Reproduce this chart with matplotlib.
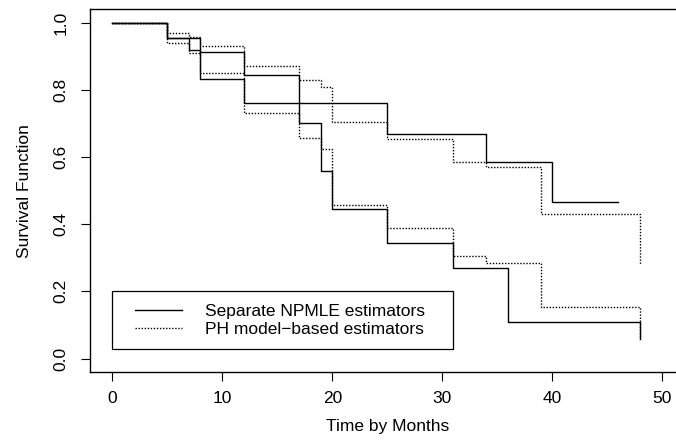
import numpy as np
import matplotlib.pyplot as plt
from matplotlib.legend_handler import HandlerLine2D

plt.rcParams['font.family'] = ['Liberation Sans', 'DejaVu Sans']

# NPMLE (solid) step curves, two groups
npmle_t1 = [0, 5, 7, 8, 12, 25, 34, 40, 46]
npmle_s1 = [1.0, 0.955, 0.920, 0.833, 0.762, 0.669, 0.586, 0.467, 0.467]
npmle_t2 = [0, 5, 8, 12, 17, 19, 20, 25, 31, 36, 48, 48]
npmle_s2 = [1.0, 0.955, 0.914, 0.845, 0.700, 0.560, 0.444, 0.343, 0.270, 0.109, 0.109, 0.057]

# PH model-based (dotted) step curves
ph_t = [0, 5, 7, 8, 12, 17, 19, 20, 25, 31, 34, 39, 48, 48]
ph_s1 = [1.0, 0.970, 0.957, 0.930, 0.871, 0.829, 0.809, 0.705, 0.655, 0.586, 0.570, 0.431, 0.431, 0.280]
ph_s2 = [1.0, 0.940, 0.909, 0.851, 0.732, 0.657, 0.625, 0.457, 0.389, 0.305, 0.285, 0.153, 0.153, 0.057]

labels = ["Separate NPMLE estimators", "PH model\u2212based estimators"]
xticks = [0, 10, 20, 30, 40, 50]
yticks = [0.0, 0.2, 0.4, 0.6, 0.8, 1.0]

fs = 12.5
dot = (0, (1, 1.2))

fig = plt.figure(figsize=(6.76, 4.43), dpi=100)
ax = fig.add_axes([90.3 / 676, 71 / 443, 594 / 676, 362.7 / 443])

l1, = ax.plot(npmle_t1, npmle_s1, drawstyle='steps-post', color='black', lw=1.0)
ax.plot(npmle_t2, npmle_s2, drawstyle='steps-post', color='black', lw=1.0)
l2, = ax.plot(ph_t, ph_s1, drawstyle='steps-post', color='black', lw=1.0, ls=dot)
ax.plot(ph_t, ph_s2, drawstyle='steps-post', color='black', lw=1.0, ls=dot)

ax.set_xlim(-2, 52)
ax.set_ylim(-0.04, 1.04)
ax.set_xticks(xticks)
ax.set_xticklabels([str(v) for v in xticks])
ax.set_yticks(yticks)
ax.set_yticklabels([f"{v:.1f}" for v in yticks], rotation=90, va='center')
ax.tick_params(axis='both', direction='out', length=6.5, width=0.8, labelsize=fs)
ax.tick_params(axis='x', pad=7.5)
ax.tick_params(axis='y', pad=9)
for sp in ax.spines.values():
    sp.set_linewidth(1.0)

ax.set_xlabel("Time by Months", fontsize=fs, labelpad=9)
ax.set_ylabel("Survival Function", fontsize=fs, labelpad=16)

hmap = {l1: HandlerLine2D(xpad=0.61), l2: HandlerLine2D(xpad=0.61)}
leg = ax.legend([l1, l2], labels, loc='upper left', bbox_to_anchor=(0, 0.02, 30.94, 0.18),
                bbox_transform=ax.transData, mode='expand', borderaxespad=0,
                fontsize=fs, handlelength=3.29, handletextpad=1.34, borderpad=0.7,
                labelspacing=0.17, fancybox=False, framealpha=1, edgecolor='black',
                handler_map=hmap)
leg.get_frame().set_linewidth(0.9)

plt.savefig("out.png", dpi=100)
